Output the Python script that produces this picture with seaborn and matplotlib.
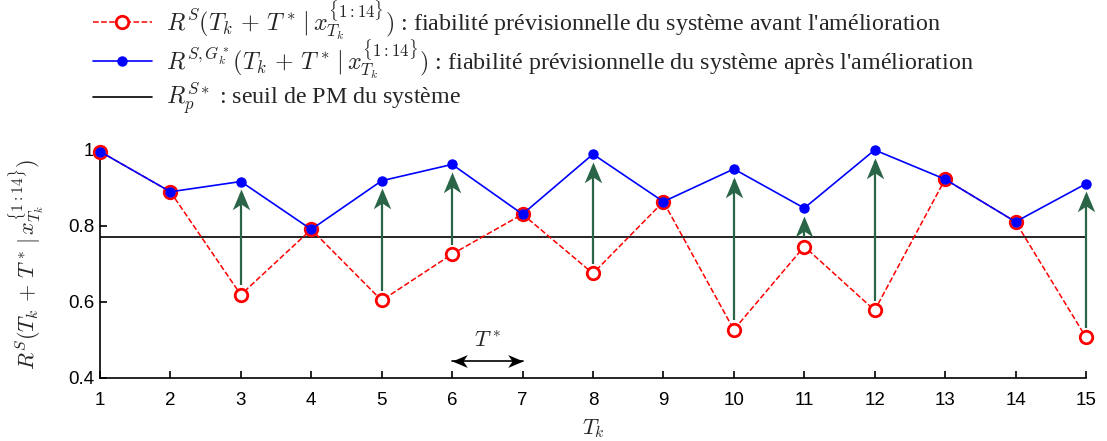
import matplotlib
matplotlib.use("Agg")
import matplotlib.pyplot as plt
import numpy as np
import seaborn as sns
from matplotlib.path import Path

# data
Tk = list(range(1, 16))
R_avant = [0.996, 0.890, 0.619, 0.791, 0.604, 0.726, 0.831, 0.675,
           0.864, 0.527, 0.746, 0.578, 0.923, 0.811, 0.507]
R_apres = [0.996, 0.890, 0.917, 0.791, 0.919, 0.962, 0.831, 0.989,
           0.864, 0.950, 0.847, 1.000, 0.923, 0.811, 0.911]
seuil = 0.771
T_star = (6, 7)
y_ticks = [0.4, 0.6, 0.8, 1.0]
y_ticklabels = ["0.4", "0.6", "0.8", "1"]

lab_avant = (r"$R^S(T_k\,+\,T^*\,|\,x_{T_k}^{\{1:14\}})$ : fiabilité prévisionnelle "
             r"du système avant l'amélioration")
lab_apres = (r"$R^{S,G_k^*}(T_k\,+\,T^*\,|\,x_{T_k}^{\{1:14\}})$ : fiabilité prévisionnelle "
             r"du système après l'amélioration")
lab_seuil = r"$R_p^{S*}$ : seuil de PM du système"

sns.set_style("ticks")
plt.rcParams["font.family"] = ["Liberation Sans", "DejaVu Sans"]
plt.rcParams["mathtext.fontset"] = "cm"

green = "#2b6548"


def head_marker(angle):
    #notched arrow head, tip at origin, pointing up then rotated
    verts = np.array([[0, 0], [0.42, -1], [0, -0.72], [-0.42, -1], [0, 0]])
    a = np.deg2rad(angle)
    rot = np.array([[np.cos(a), -np.sin(a)], [np.sin(a), np.cos(a)]])
    verts = verts @ rot.T
    codes = [Path.MOVETO, Path.LINETO, Path.LINETO, Path.LINETO, Path.CLOSEPOLY]
    return Path(verts, codes)


fig = plt.figure(figsize=(11.07, 4.41), dpi=100)
ax = fig.add_axes([0.0903, 0.1429, 0.8907, 0.517])

sns.lineplot(x=Tk, y=R_avant, ax=ax, color="red", linestyle="--", lw=1.1,
             marker="o", markersize=9, markerfacecolor="white",
             markeredgecolor="red", markeredgewidth=2, clip_on=False,
             zorder=3, label=lab_avant)
sns.lineplot(x=Tk, y=R_apres, ax=ax, color="blue", lw=1.2,
             marker="o", markersize=6.5, markerfacecolor="blue",
             markeredgecolor="blue", markeredgewidth=1, clip_on=False,
             zorder=4, label=lab_apres)
ax.axhline(seuil, color="black", lw=1.2, zorder=2, label=lab_seuil)

# improvement arrows
x = np.array(Tk)
lo = np.array(R_avant)
hi = np.array(R_apres)
m = (hi - lo) > 0.01
ax.vlines(x[m], lo[m] + 0.025, hi[m] - 0.03, color=green, lw=1.6, zorder=2,
          clip_on=False)
ax.plot(x[m], hi[m] - 0.02, linestyle="none", marker=head_marker(0),
        markersize=30, color=green, markeredgewidth=0, zorder=2, clip_on=False)

# T* span
y_arr = 0.446
ax.plot(list(T_star), [y_arr, y_arr], color="black", lw=1.2)
ax.plot([T_star[0]], [y_arr], linestyle="none", marker=head_marker(90),
        markersize=22, color="black", markeredgewidth=0)
ax.plot([T_star[1]], [y_arr], linestyle="none", marker=head_marker(-90),
        markersize=22, color="black", markeredgewidth=0)
ax.text(np.mean(T_star), 0.497, r"$T^*$", ha="center", va="center", fontsize=16)

ax.set_xlim(1, 15)
ax.set_ylim(0.4, 1.0)
ax.set_xticks(Tk)
ax.set_yticks(y_ticks)
ax.set_yticklabels(y_ticklabels)
ax.tick_params(direction="in", length=5, width=1.2, labelsize=13.5, colors="black")
ax.tick_params(axis="x", pad=10)
ax.tick_params(axis="y", pad=4)
sns.despine(ax=ax)
for s in ["left", "bottom"]:
    ax.spines[s].set_linewidth(1.2)
    ax.spines[s].set_color("black")

ax.set_xlabel(r"$T_k$", fontsize=16, labelpad=6)
ax.set_ylabel(r"$R^S(T_k\,+\,T^*\,|\,x_{T_k}^{\{1:14\}})$", fontsize=16, labelpad=16)

handles, labels = ax.get_legend_handles_labels()
if ax.get_legend() is not None:
    ax.get_legend().remove()
# one legend row per entry so the rows sit where the reference has them
row_y = [1 - 20 / 441, 1 - 59 / 441, 1 - 99 / 441]
for h, l, yy in zip(handles, labels, row_y):
    fig.legend([h], [l], loc="center left", bbox_to_anchor=(0.084, yy),
               frameon=False, prop={"family": "Liberation Serif", "size": 17.3},
               handlelength=2.45, handletextpad=0.6,
               borderaxespad=0, borderpad=0)

fig.savefig("out.png", dpi=100)
